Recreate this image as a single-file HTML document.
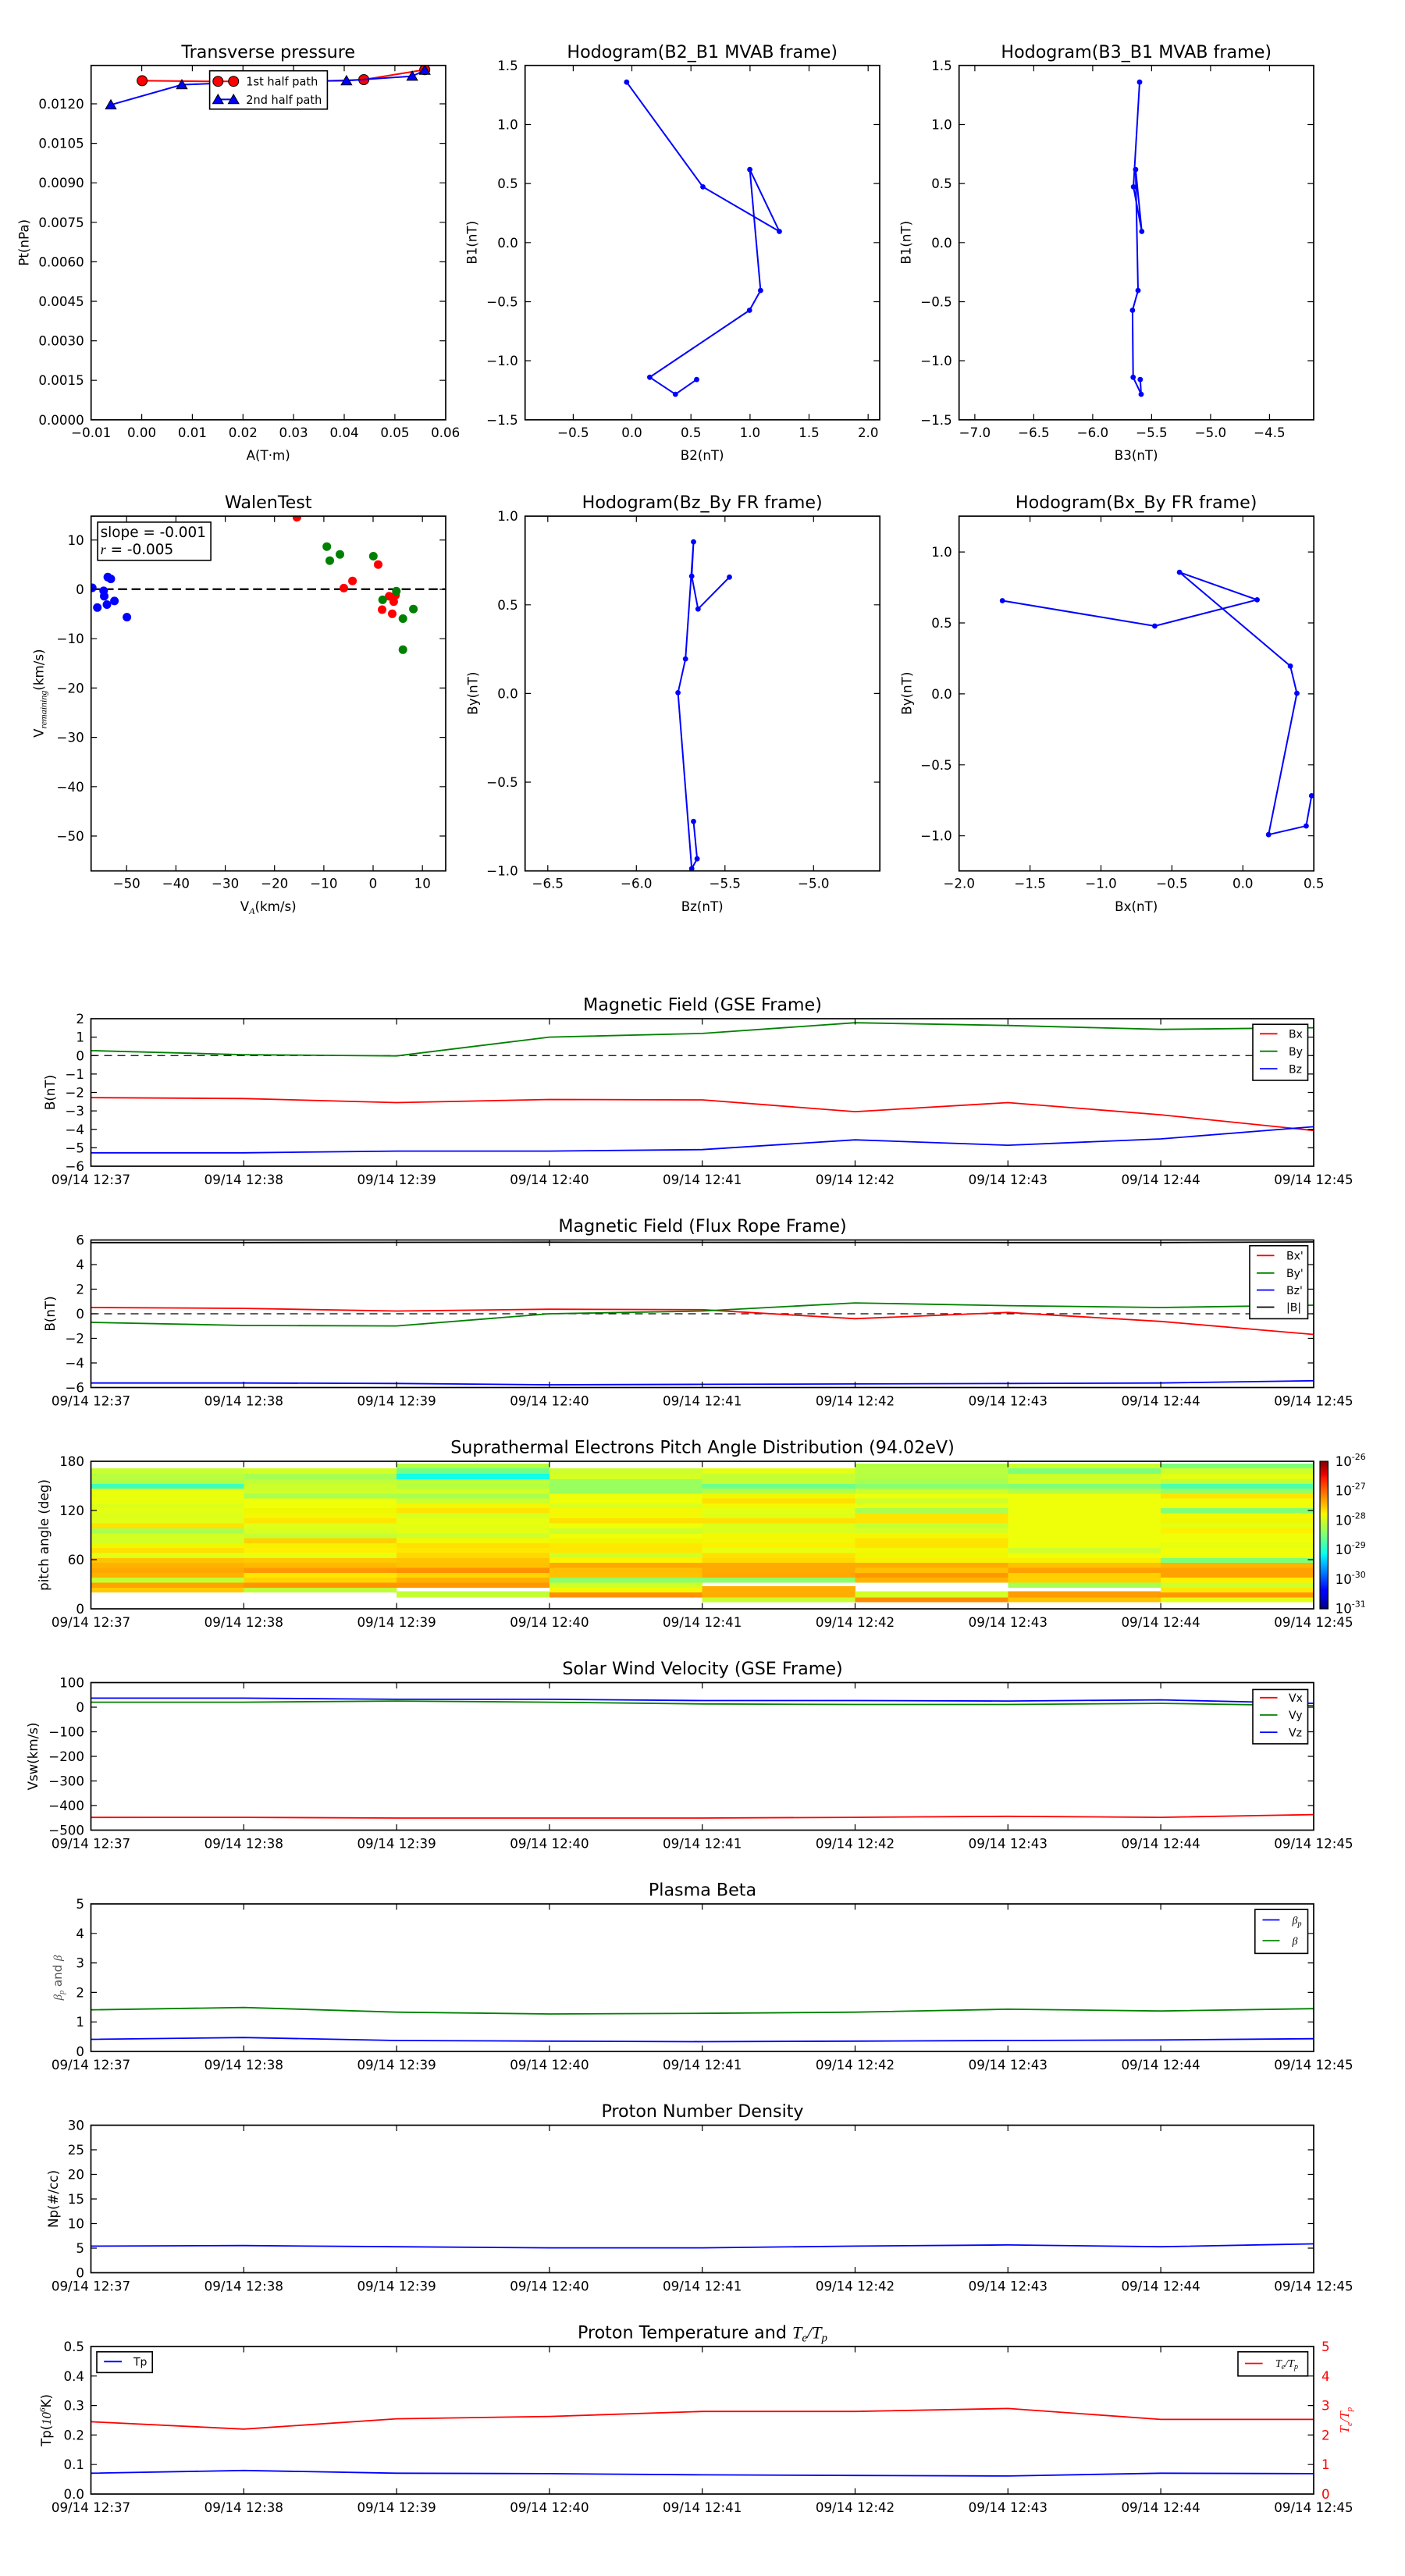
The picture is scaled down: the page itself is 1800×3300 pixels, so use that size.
<!DOCTYPE html>
<html><head><meta charset="utf-8"><style>
html,body{margin:0;padding:0;background:#fff;}
svg{display:block;}
text{font-family:"DejaVu Sans","Liberation Sans",sans-serif;font-size:16.67px;fill:#000;}
.m{text-anchor:middle;}
.e{text-anchor:end;}
.ti{font-size:22.2px;text-anchor:middle;}
.lg{font-size:14px;}
.mi{font-family:"Liberation Serif","DejaVu Serif",serif;font-style:italic;}
.fr{fill:none;stroke:#000;stroke-width:1.7;}
.tk{fill:none;stroke:#000;stroke-width:1.2;}
.ln{fill:none;stroke-width:1.8;stroke-linejoin:round;}
</style></head><body>
<svg xmlns="http://www.w3.org/2000/svg" width="1800" height="3300" viewBox="0 0 1800 3300">
<defs>
<clipPath id="c4"><rect x="0" y="0" width="454.5" height="454.5"/></clipPath>
<marker id="db" viewBox="-5 -5 10 10" markerWidth="10" markerHeight="10" markerUnits="userSpaceOnUse" overflow="visible"><circle r="3.4" fill="#0000ff"/></marker>
<marker id="rc" viewBox="-8 -8 16 16" markerWidth="16" markerHeight="16" markerUnits="userSpaceOnUse" overflow="visible"><circle r="6.5" fill="#ff0000" stroke="#000" stroke-width="1"/></marker>
<marker id="bt" viewBox="-8 -8 16 16" markerWidth="16" markerHeight="16" markerUnits="userSpaceOnUse" overflow="visible"><path d="M0,-6.5L-6.8,5.3L6.8,5.3Z" fill="#0000ff" stroke="#000" stroke-width="1"/></marker>
<linearGradient id="jet" x1="0" y1="1" x2="0" y2="0">
<stop offset="0" stop-color="#000080"/><stop offset="0.11" stop-color="#0000ff"/><stop offset="0.125" stop-color="#0000ff"/>
<stop offset="0.34" stop-color="#00dbff"/><stop offset="0.375" stop-color="#0affed"/><stop offset="0.5" stop-color="#7dff7a"/>
<stop offset="0.64" stop-color="#f4f802"/><stop offset="0.66" stop-color="#ffe600"/><stop offset="0.89" stop-color="#ff1300"/>
<stop offset="0.91" stop-color="#ed0000"/><stop offset="1" stop-color="#800000"/>
</linearGradient>
</defs>

<!-- ================= P1 Transverse pressure ================= -->
<g transform="translate(116.7,83.8)">
<text class="ti" x="227" y="-10">Transverse pressure</text>
<g clip-path="url(#c4)">
<polyline points="65.4,19.6 250,21.5 349.4,18.2 427.5,5.5" fill="none" stroke="#ff0000" stroke-width="2" marker-start="url(#rc)" marker-mid="url(#rc)" marker-end="url(#rc)"/>
<polyline points="25.3,50.5 116.3,24.7 230,20.5 327.2,19.6 411.4,13.8 427.5,6.2" fill="none" stroke="#0000ff" stroke-width="2" marker-start="url(#bt)" marker-mid="url(#bt)" marker-end="url(#bt)"/>
</g>
<rect x="151.9" y="6.9" width="150.8" height="49.1" fill="#fff" stroke="#000" stroke-width="1.6"/>
<polyline points="162.6,20.4 182.5,20.4" fill="none" stroke="#ff0000" stroke-width="2" marker-start="url(#rc)" marker-end="url(#rc)"/>
<polyline points="162.6,43.6 182.5,43.6" fill="none" stroke="#0000ff" stroke-width="2" marker-start="url(#bt)" marker-end="url(#bt)"/>
<text x="198.6" y="25.8" font-size="15" textLength="92" lengthAdjust="spacingAndGlyphs" style="font-size:15px">1st half path</text>
<text x="198.6" y="49" font-size="15" textLength="97" lengthAdjust="spacingAndGlyphs" style="font-size:15px">2nd half path</text>
<rect class="fr" x="0" y="0" width="454.3" height="454"/>
<path class="tk" d="M64.9,454v-7.5M64.9,0v7.5M129.7,454v-7.5M129.7,0v7.5M194.6,454v-7.5M194.6,0v7.5M259.4,454v-7.5M259.4,0v7.5M324.3,454v-7.5M324.3,0v7.5M389.2,454v-7.5M389.2,0v7.5M0,403.4h7.5M454,403.4h-7.5M0,352.8h7.5M454,352.8h-7.5M0,302.2h7.5M454,302.2h-7.5M0,251.6h7.5M454,251.6h-7.5M0,201h7.5M454,201h-7.5M0,150.4h7.5M454,150.4h-7.5M0,99.8h7.5M454,99.8h-7.5M0,49.2h7.5M454,49.2h-7.5"/>
<text class="m" x="0" y="476">−0.01</text><text class="m" x="64.9" y="476">0.00</text><text class="m" x="129.7" y="476">0.01</text><text class="m" x="194.6" y="476">0.02</text><text class="m" x="259.4" y="476">0.03</text><text class="m" x="324.3" y="476">0.04</text><text class="m" x="389.2" y="476">0.05</text><text class="m" x="454" y="476">0.06</text>
<text class="e" x="-9" y="460">0.0000</text><text class="e" x="-9" y="409.4">0.0015</text><text class="e" x="-9" y="358.8">0.0030</text><text class="e" x="-9" y="308.2">0.0045</text><text class="e" x="-9" y="257.6">0.0060</text><text class="e" x="-9" y="207">0.0075</text><text class="e" x="-9" y="156.4">0.0090</text><text class="e" x="-9" y="105.8">0.0105</text><text class="e" x="-9" y="55.2">0.0120</text>
<text class="m" x="227" y="505">A(T·m)</text>
<text class="m" transform="translate(-80,227) rotate(-90)">Pt(nPa)</text>
</g>

<!-- ================= P2 Hodogram B2_B1 ================= -->
<g transform="translate(672.7,83.8)">
<text class="ti" x="227" y="-10">Hodogram(B2_B1 MVAB frame)</text>
<g clip-path="url(#c4)">
<polyline points="130.1,21.4 227.8,155.6 325.8,212.7 287.9,133.4 301.7,288.3 287.5,313.7 159.7,399.5 192.6,421.3 219.8,402.4" fill="none" stroke="#0000ff" stroke-width="2" marker-start="url(#db)" marker-mid="url(#db)" marker-end="url(#db)"/>
</g>
<rect class="fr" x="0" y="0" width="454.3" height="454"/>
<path class="tk" d="M61.7,454v-7.5M61.7,0v7.5M136.8,454v-7.5M136.8,0v7.5M212.5,454v-7.5M212.5,0v7.5M288.2,454v-7.5M288.2,0v7.5M363.8,454v-7.5M363.8,0v7.5M439.5,454v-7.5M439.5,0v7.5M0,75.7h7.5M454,75.7h-7.5M0,151.3h7.5M454,151.3h-7.5M0,227h7.5M454,227h-7.5M0,302.7h7.5M454,302.7h-7.5M0,378.3h7.5M454,378.3h-7.5"/>
<text class="m" x="61.7" y="476">−0.5</text><text class="m" x="136.8" y="476">0.0</text><text class="m" x="212.5" y="476">0.5</text><text class="m" x="288.2" y="476">1.0</text><text class="m" x="363.8" y="476">1.5</text><text class="m" x="439.5" y="476">2.0</text>
<text class="e" x="-9" y="6">1.5</text><text class="e" x="-9" y="81.7">1.0</text><text class="e" x="-9" y="157.3">0.5</text><text class="e" x="-9" y="233">0.0</text><text class="e" x="-9" y="308.7">−0.5</text><text class="e" x="-9" y="384.3">−1.0</text><text class="e" x="-9" y="460">−1.5</text>
<text class="m" x="227" y="505">B2(nT)</text>
<text class="m" transform="translate(-62,227) rotate(-90)">B1(nT)</text>
</g>

<!-- ================= P3 Hodogram B3_B1 ================= -->
<g transform="translate(1228.7,83.8)">
<text class="ti" x="227" y="-10">Hodogram(B3_B1 MVAB frame)</text>
<g clip-path="url(#c4)">
<polyline points="231.3,21.4 223.4,155.6 234.1,212.7 226.2,133.4 229.3,288.3 222.2,313.7 223.0,399.5 233.3,421.3 232.1,402.4" fill="none" stroke="#0000ff" stroke-width="2" marker-start="url(#db)" marker-mid="url(#db)" marker-end="url(#db)"/>
</g>
<rect class="fr" x="0" y="0" width="454.3" height="454"/>
<path class="tk" d="M20.2,454v-7.5M20.2,0v7.5M95.7,454v-7.5M95.7,0v7.5M171.2,454v-7.5M171.2,0v7.5M246.7,454v-7.5M246.7,0v7.5M322.2,454v-7.5M322.2,0v7.5M397.7,454v-7.5M397.7,0v7.5M0,75.7h7.5M454,75.7h-7.5M0,151.3h7.5M454,151.3h-7.5M0,227h7.5M454,227h-7.5M0,302.7h7.5M454,302.7h-7.5M0,378.3h7.5M454,378.3h-7.5"/>
<text class="m" x="20.2" y="476">−7.0</text><text class="m" x="95.7" y="476">−6.5</text><text class="m" x="171.2" y="476">−6.0</text><text class="m" x="246.7" y="476">−5.5</text><text class="m" x="322.2" y="476">−5.0</text><text class="m" x="397.7" y="476">−4.5</text>
<text class="e" x="-9" y="6">1.5</text><text class="e" x="-9" y="81.7">1.0</text><text class="e" x="-9" y="157.3">0.5</text><text class="e" x="-9" y="233">0.0</text><text class="e" x="-9" y="308.7">−0.5</text><text class="e" x="-9" y="384.3">−1.0</text><text class="e" x="-9" y="460">−1.5</text>
<text class="m" x="227" y="505">B3(nT)</text>
<text class="m" transform="translate(-62,227) rotate(-90)">B1(nT)</text>
</g>

<!-- ================= P4 WalenTest ================= -->
<g transform="translate(116.7,661.2)">
<text class="ti" x="227" y="-10">WalenTest</text>
<g clip-path="url(#c4)">
<path d="M0,93.6H454.5" stroke="#000" stroke-width="2.3" stroke-dasharray="11.5,5.8" fill="none"/>
<g fill="#0000ff">
<circle cx="1.5" cy="91.8" r="5.5"/><circle cx="8.0" cy="117.1" r="5.5"/><circle cx="16.1" cy="95.7" r="5.5"/><circle cx="16.8" cy="102.6" r="5.5"/><circle cx="20.3" cy="113.3" r="5.5"/><circle cx="21.4" cy="78.1" r="5.5"/><circle cx="25.3" cy="80.4" r="5.5"/><circle cx="29.9" cy="108.7" r="5.5"/><circle cx="45.9" cy="129.4" r="5.5"/>
</g>
<g fill="#ff0000">
<circle cx="263.7" cy="1.5" r="5.5"/><circle cx="323.8" cy="92.2" r="5.5"/><circle cx="334.9" cy="83.0" r="5.5"/><circle cx="367.8" cy="62.0" r="5.5"/><circle cx="372.8" cy="119.8" r="5.5"/><circle cx="381.9" cy="102.6" r="5.5"/><circle cx="385.8" cy="125.1" r="5.5"/><circle cx="387.7" cy="109.5" r="5.5"/><circle cx="390.0" cy="101.4" r="5.5"/>
</g>
<g fill="#008000">
<circle cx="302.0" cy="39.0" r="5.5"/><circle cx="305.8" cy="57.0" r="5.5"/><circle cx="318.8" cy="49.0" r="5.5"/><circle cx="361.6" cy="51.3" r="5.5"/><circle cx="373.5" cy="107.2" r="5.5"/><circle cx="391.1" cy="96.1" r="5.5"/><circle cx="412.9" cy="119.0" r="5.5"/><circle cx="399.5" cy="131.3" r="5.5"/><circle cx="399.5" cy="171.1" r="5.5"/>
</g>
</g>
<rect x="8.4" y="7.7" width="145" height="48.9" fill="#fff" stroke="#000" stroke-width="1.6"/>
<text x="11.9" y="26.8" style="font-size:18.4px">slope = -0.001</text>
<text x="11.9" y="48.6" style="font-size:18.4px"><tspan class="mi" style="font-size:18.4px">r</tspan> = -0.005</text>
<rect class="fr" x="0" y="0" width="454.3" height="454.5"/>
<path class="tk" d="M45.5,454.5v-7.5M45.5,0v7.5M108.7,454.5v-7.5M108.7,0v7.5M171.9,454.5v-7.5M171.9,0v7.5M235,454.5v-7.5M235,0v7.5M298.2,454.5v-7.5M298.2,0v7.5M361.3,454.5v-7.5M361.3,0v7.5M424.5,454.5v-7.5M424.5,0v7.5M0,30.6h7.5M454,30.6h-7.5M0,93.8h7.5M454,93.8h-7.5M0,157h7.5M454,157h-7.5M0,220.2h7.5M454,220.2h-7.5M0,283.4h7.5M454,283.4h-7.5M0,346.6h7.5M454,346.6h-7.5M0,409.8h7.5M454,409.8h-7.5"/>
<text class="m" x="45.5" y="476.5">−50</text><text class="m" x="108.7" y="476.5">−40</text><text class="m" x="171.9" y="476.5">−30</text><text class="m" x="235" y="476.5">−20</text><text class="m" x="298.2" y="476.5">−10</text><text class="m" x="361.3" y="476.5">0</text><text class="m" x="424.5" y="476.5">10</text>
<text class="e" x="-9" y="36.6">10</text><text class="e" x="-9" y="99.8">0</text><text class="e" x="-9" y="163">−10</text><text class="e" x="-9" y="226.2">−20</text><text class="e" x="-9" y="289.4">−30</text><text class="e" x="-9" y="352.6">−40</text><text class="e" x="-9" y="415.8">−50</text>
<text class="m" x="227" y="506">V<tspan class="mi" style="font-size:12px" dy="4">A</tspan><tspan dy="-4">(km/s)</tspan></text>
<text class="m" transform="translate(-61,227) rotate(-90)">V<tspan class="mi" style="font-size:12px" dy="4">remaining</tspan><tspan dy="-4">(km/s)</tspan></text>
</g>

<!-- ================= P5 Hodogram Bz_By ================= -->
<g transform="translate(672.7,661.2)">
<text class="ti" x="227" y="-10">Hodogram(Bz_By FR frame)</text>
<g clip-path="url(#c4)">
<polyline points="261.8,78.1 221.6,119.0 213.5,76.9 215.8,32.9 205.5,182.9 195.9,226.2 213.5,451.6 220.4,439.0 215.8,391.1" fill="none" stroke="#0000ff" stroke-width="2" marker-start="url(#db)" marker-mid="url(#db)" marker-end="url(#db)"/>
</g>
<rect class="fr" x="0" y="0" width="454.5" height="454.5"/>
<path class="tk" d="M29.1,454.5v-7.5M29.1,0v7.5M142.6,454.5v-7.5M142.6,0v7.5M256.1,454.5v-7.5M256.1,0v7.5M369.6,454.5v-7.5M369.6,0v7.5M0,113.6h7.5M454.5,113.6h-7.5M0,227.2h7.5M454.5,227.2h-7.5M0,340.8h7.5M454.5,340.8h-7.5"/>
<text class="m" x="29.1" y="476.5">−6.5</text><text class="m" x="142.6" y="476.5">−6.0</text><text class="m" x="256.1" y="476.5">−5.5</text><text class="m" x="369.6" y="476.5">−5.0</text>
<text class="e" x="-9" y="6">1.0</text><text class="e" x="-9" y="119.6">0.5</text><text class="e" x="-9" y="233.2">0.0</text><text class="e" x="-9" y="346.8">−0.5</text><text class="e" x="-9" y="460.4">−1.0</text>
<text class="m" x="227" y="506">Bz(nT)</text>
<text class="m" transform="translate(-61,227) rotate(-90)">By(nT)</text>
</g>

<!-- ================= P6 Hodogram Bx_By ================= -->
<g transform="translate(1228.7,661.2)">
<text class="ti" x="227" y="-10">Hodogram(Bx_By FR frame)</text>
<g clip-path="url(#c4)">
<polyline points="55.5,108.3 250.7,140.8 381.9,107.2 282.4,71.9 424.4,192.1 432.8,226.9 396.5,408.0 444.7,396.9 451.6,358.2" fill="none" stroke="#0000ff" stroke-width="2" marker-start="url(#db)" marker-mid="url(#db)" marker-end="url(#db)"/>
</g>
<rect class="fr" x="0" y="0" width="454.5" height="454.5"/>
<path class="tk" d="M90.9,454.5v-7.5M90.9,0v7.5M181.8,454.5v-7.5M181.8,0v7.5M272.7,454.5v-7.5M272.7,0v7.5M363.6,454.5v-7.5M363.6,0v7.5M0,45.9h7.5M454.5,45.9h-7.5M0,136.8h7.5M454.5,136.8h-7.5M0,227.7h7.5M454.5,227.7h-7.5M0,318.6h7.5M454.5,318.6h-7.5M0,409.5h7.5M454.5,409.5h-7.5"/>
<text class="m" x="0" y="476.5">−2.0</text><text class="m" x="90.9" y="476.5">−1.5</text><text class="m" x="181.8" y="476.5">−1.0</text><text class="m" x="272.7" y="476.5">−0.5</text><text class="m" x="363.6" y="476.5">0.0</text><text class="m" x="454.5" y="476.5">0.5</text>
<text class="e" x="-9" y="51.9">1.0</text><text class="e" x="-9" y="142.8">0.5</text><text class="e" x="-9" y="233.7">0.0</text><text class="e" x="-9" y="324.6">−0.5</text><text class="e" x="-9" y="415.5">−1.0</text>
<text class="m" x="227" y="506">Bx(nT)</text>
<text class="m" transform="translate(-61,227) rotate(-90)">By(nT)</text>
</g>

<!-- ================= TS1 Magnetic Field GSE ================= -->
<path d="M116.5,1352.25H1683" stroke="#000" stroke-width="1.2" stroke-dasharray="10,7" fill="none"/>
<polyline class="ln" stroke="#ff0000" points="116.5,1406.1 312.3,1407.3 508.1,1412.5 703.9,1408.5 899.7,1409.0 1095.5,1424.1 1291.3,1412.5 1487.1,1428.1 1682.9,1448.2"/>
<polyline class="ln" stroke="#008000" points="116.5,1345.9 312.3,1351.1 508.1,1352.7 703.9,1328.6 899.7,1323.9 1095.5,1310.2 1291.3,1313.7 1487.1,1318.7 1682.9,1316.6"/>
<polyline class="ln" stroke="#0000ff" points="116.5,1476.8 312.3,1476.8 508.1,1474.6 703.9,1474.6 899.7,1472.7 1095.5,1460.2 1291.3,1467.1 1487.1,1459.0 1682.9,1443.4"/>
<g transform="translate(0,1305)">
<text class="ti" x="900" y="-10.5">Magnetic Field (GSE Frame)</text>
<rect x="1605" y="7.2" width="70.5" height="71.8" fill="#fff" stroke="#000" stroke-width="1.6"/>
<path d="M1614,19.3h22.5" stroke="#ff0000" stroke-width="1.8"/><path d="M1614,41.7h22.5" stroke="#008000" stroke-width="1.8"/><path d="M1614,64.1h22.5" stroke="#0000ff" stroke-width="1.8"/>
<text class="lg" x="1651" y="24.5">Bx</text><text class="lg" x="1651" y="46.9">By</text><text class="lg" x="1651" y="69.3">Bz</text>
<rect class="fr" x="116.5" y="0" width="1566.5" height="189"/>
<path class="tk" d="M312.3,189v-7.5M312.3,0v7.5M508.1,189v-7.5M508.1,0v7.5M703.9,189v-7.5M703.9,0v7.5M899.7,189v-7.5M899.7,0v7.5M1095.5,189v-7.5M1095.5,0v7.5M1291.3,189v-7.5M1291.3,0v7.5M1487.1,189v-7.5M1487.1,0v7.5M116.5,23.6h7.5M1683,23.6h-7.5M116.5,47.25h7.5M1683,47.25h-7.5M116.5,70.9h7.5M1683,70.9h-7.5M116.5,94.5h7.5M1683,94.5h-7.5M116.5,118.1h7.5M1683,118.1h-7.5M116.5,141.75h7.5M1683,141.75h-7.5M116.5,165.4h7.5M1683,165.4h-7.5"/>
<text class="e" x="108" y="6">2</text><text class="e" x="108" y="29.6">1</text><text class="e" x="108" y="53.25">0</text><text class="e" x="108" y="76.9">−1</text><text class="e" x="108" y="100.5">−2</text><text class="e" x="108" y="124.1">−3</text><text class="e" x="108" y="147.75">−4</text><text class="e" x="108" y="171.4">−5</text><text class="e" x="108" y="195">−6</text>
<text class="m" x="116.5" y="212">09/14 12:37</text><text class="m" x="312.3" y="212">09/14 12:38</text><text class="m" x="508.1" y="212">09/14 12:39</text><text class="m" x="703.9" y="212">09/14 12:40</text><text class="m" x="899.7" y="212">09/14 12:41</text><text class="m" x="1095.5" y="212">09/14 12:42</text><text class="m" x="1291.3" y="212">09/14 12:43</text><text class="m" x="1487.1" y="212">09/14 12:44</text><text class="m" x="1682.9" y="212">09/14 12:45</text>
<text class="m" transform="translate(70,94.5) rotate(-90)">B(nT)</text>
</g>

<!-- ================= TS2 Magnetic Field Flux Rope ================= -->
<path d="M116.5,1683H1683" stroke="#000" stroke-width="1.2" stroke-dasharray="10,7" fill="none"/>
<polyline class="ln" stroke="#ff0000" points="116.5,1675.0 312.3,1676.1 508.1,1679.5 703.9,1677.2 899.7,1677.8 1095.5,1689.3 1291.3,1681.3 1487.1,1692.8 1682.9,1709.5"/>
<polyline class="ln" stroke="#008000" points="116.5,1694.0 312.3,1698.0 508.1,1698.6 703.9,1683.0 899.7,1679.5 1095.5,1669.1 1291.3,1672.6 1487.1,1675.0 1682.9,1672.0"/>
<polyline class="ln" stroke="#0000ff" points="116.5,1771.7 312.3,1771.7 508.1,1772.3 703.9,1774.0 899.7,1773.4 1095.5,1772.9 1291.3,1772.3 1487.1,1771.7 1682.9,1768.8"/>
<polyline class="ln" stroke="#000" points="116.5,1591.8 312.3,1591.8 508.1,1591.5 703.9,1591.3 899.7,1591.5 1095.5,1591.6 1291.3,1591.8 1487.1,1591.8 1682.9,1591.0"/>
<g transform="translate(0,1588.5)">
<text class="ti" x="900" y="-10.5">Magnetic Field (Flux Rope Frame)</text>
<rect x="1601" y="7.3" width="74.5" height="93.6" fill="#fff" stroke="#000" stroke-width="1.6"/>
<path d="M1610,19.9h22.5" stroke="#ff0000" stroke-width="1.8"/><path d="M1610,42.3h22.5" stroke="#008000" stroke-width="1.8"/><path d="M1610,64.1h22.5" stroke="#0000ff" stroke-width="1.8"/><path d="M1610,86h22.5" stroke="#000" stroke-width="1.8"/>
<text class="lg" x="1648" y="25.1">Bx'</text><text class="lg" x="1648" y="47.5">By'</text><text class="lg" x="1648" y="69.3">Bz'</text><text class="lg" x="1648" y="91.2">|B|</text>
<rect class="fr" x="116.5" y="0" width="1566.5" height="189"/>
<path class="tk" d="M312.3,189v-7.5M312.3,0v7.5M508.1,189v-7.5M508.1,0v7.5M703.9,189v-7.5M703.9,0v7.5M899.7,189v-7.5M899.7,0v7.5M1095.5,189v-7.5M1095.5,0v7.5M1291.3,189v-7.5M1291.3,0v7.5M1487.1,189v-7.5M1487.1,0v7.5M116.5,31.5h7.5M1683,31.5h-7.5M116.5,63h7.5M1683,63h-7.5M116.5,94.5h7.5M1683,94.5h-7.5M116.5,126h7.5M1683,126h-7.5M116.5,157.5h7.5M1683,157.5h-7.5"/>
<text class="e" x="108" y="6">6</text><text class="e" x="108" y="37.5">4</text><text class="e" x="108" y="69">2</text><text class="e" x="108" y="100.5">0</text><text class="e" x="108" y="132">−2</text><text class="e" x="108" y="163.5">−4</text><text class="e" x="108" y="195">−6</text>
<text class="m" x="116.5" y="212">09/14 12:37</text><text class="m" x="312.3" y="212">09/14 12:38</text><text class="m" x="508.1" y="212">09/14 12:39</text><text class="m" x="703.9" y="212">09/14 12:40</text><text class="m" x="899.7" y="212">09/14 12:41</text><text class="m" x="1095.5" y="212">09/14 12:42</text><text class="m" x="1291.3" y="212">09/14 12:43</text><text class="m" x="1487.1" y="212">09/14 12:44</text><text class="m" x="1682.9" y="212">09/14 12:45</text>
<text class="m" transform="translate(70,94.5) rotate(-90)">B(nT)</text>
</g>

<!-- ================= TS3 PAD ================= -->
<g transform="translate(116,1866) scale(0.5,0.3345)" shape-rendering="crispEdges">
<g transform="translate(1,0)">
<rect y="45" width="392.6" height="22" fill="#c8ff30"/><rect y="66" width="392.6" height="22" fill="#b8ff3f"/><rect y="87" width="392.6" height="19" fill="#b0ff47"/><rect y="105" width="392.6" height="19" fill="#3dffba"/><rect y="123" width="392.6" height="58" fill="#eaff0c"/><rect y="180" width="392.6" height="19" fill="#dcff1a"/><rect y="198" width="392.6" height="20" fill="#e4ff12"/><rect y="217" width="392.6" height="20" fill="#dcff1a"/><rect y="236" width="392.6" height="20" fill="#e0ff17"/><rect y="255" width="392.6" height="21" fill="#ffe200"/><rect y="275" width="392.6" height="20" fill="#a6ff51"/><rect y="294" width="392.6" height="39" fill="#d4ff23"/><rect y="332" width="392.6" height="19" fill="#f0f800"/><rect y="350" width="392.6" height="20" fill="#ffe000"/><rect y="369" width="392.6" height="20" fill="#e2ff15"/><rect y="388" width="392.6" height="20" fill="#ffc400"/><rect y="407" width="392.6" height="20" fill="#ffb100"/><rect y="426" width="392.6" height="20" fill="#ffa900"/><rect y="445" width="392.6" height="20" fill="#ffb100"/><rect y="464" width="392.6" height="20" fill="#c4ff33"/><rect y="483" width="392.6" height="20" fill="#ffa300"/><rect y="502" width="392.6" height="18" fill="#ffcb00"/>
</g>
<g transform="translate(392.6,0)">
<rect y="45" width="392.6" height="22" fill="#d4ff23"/><rect y="66" width="392.6" height="22" fill="#a6ff51"/><rect y="87" width="392.6" height="19" fill="#c0ff37"/><rect y="105" width="392.6" height="19" fill="#ccff2b"/><rect y="123" width="392.6" height="20" fill="#d0ff27"/><rect y="142" width="392.6" height="19" fill="#a6ff51"/><rect y="160" width="392.6" height="39" fill="#eeff09"/><rect y="198" width="392.6" height="20" fill="#f0f800"/><rect y="217" width="392.6" height="20" fill="#f4f802"/><rect y="236" width="392.6" height="20" fill="#ffe600"/><rect y="255" width="392.6" height="21" fill="#e0ff17"/><rect y="275" width="392.6" height="20" fill="#d8ff1f"/><rect y="294" width="392.6" height="20" fill="#c4ff33"/><rect y="313" width="392.6" height="20" fill="#ffd200"/><rect y="332" width="392.6" height="19" fill="#f8f000"/><rect y="350" width="392.6" height="20" fill="#fff000"/><rect y="369" width="392.6" height="20" fill="#e8ff0f"/><rect y="388" width="392.6" height="20" fill="#ffc800"/><rect y="407" width="392.6" height="20" fill="#ffb800"/><rect y="426" width="392.6" height="20" fill="#ff9800"/><rect y="445" width="392.6" height="20" fill="#ffe600"/><rect y="464" width="392.6" height="20" fill="#ffd400"/><rect y="483" width="392.6" height="20" fill="#ff9400"/><rect y="502" width="392.6" height="18" fill="#c0ff37"/>
</g>
<g transform="translate(784.2,0)">
<rect y="27" width="392.6" height="19" fill="#b8ff3f"/><rect y="45" width="392.6" height="22" fill="#70ff86"/><rect y="66" width="392.6" height="22" fill="#10ffe6"/><rect y="87" width="392.6" height="19" fill="#c0ff37"/><rect y="105" width="392.6" height="19" fill="#b4ff43"/><rect y="123" width="392.6" height="20" fill="#d4ff23"/><rect y="142" width="392.6" height="19" fill="#a6ff51"/><rect y="160" width="392.6" height="21" fill="#ccff2b"/><rect y="180" width="392.6" height="19" fill="#f4f802"/><rect y="198" width="392.6" height="20" fill="#ffe400"/><rect y="217" width="392.6" height="20" fill="#d8ff1f"/><rect y="236" width="392.6" height="20" fill="#e8ff0f"/><rect y="255" width="392.6" height="40" fill="#e4ff12"/><rect y="294" width="392.6" height="20" fill="#ccff2b"/><rect y="313" width="392.6" height="20" fill="#f4f802"/><rect y="332" width="392.6" height="19" fill="#ffe000"/><rect y="350" width="392.6" height="20" fill="#ffe800"/><rect y="369" width="392.6" height="20" fill="#ffd800"/><rect y="388" width="392.6" height="20" fill="#ffc400"/><rect y="407" width="392.6" height="20" fill="#ffc000"/><rect y="426" width="392.6" height="20" fill="#ff9000"/><rect y="445" width="392.6" height="20" fill="#ffd400"/><rect y="464" width="392.6" height="20" fill="#ffb000"/><rect y="483" width="392.6" height="19" fill="#ff9800"/><rect y="516" width="392.6" height="24" fill="#c4ff33"/>
</g>
<g transform="translate(1175.8,0)">
<rect y="45" width="391.8" height="22" fill="#ccff2b"/><rect y="66" width="391.8" height="22" fill="#d4ff23"/><rect y="87" width="391.8" height="56" fill="#98ff5f"/><rect y="142" width="391.8" height="39" fill="#f0ff07"/><rect y="180" width="391.8" height="19" fill="#d8ff1f"/><rect y="198" width="391.8" height="39" fill="#f4f802"/><rect y="236" width="391.8" height="20" fill="#ffe000"/><rect y="255" width="391.8" height="21" fill="#f0ff07"/><rect y="275" width="391.8" height="20" fill="#ccff2b"/><rect y="294" width="391.8" height="20" fill="#f0ff07"/><rect y="313" width="391.8" height="20" fill="#f0f800"/><rect y="332" width="391.8" height="38" fill="#ffe800"/><rect y="369" width="391.8" height="20" fill="#d0ff27"/><rect y="388" width="391.8" height="20" fill="#fff200"/><rect y="407" width="391.8" height="20" fill="#ffa800"/><rect y="426" width="391.8" height="39" fill="#ffc000"/><rect y="464" width="391.8" height="20" fill="#8cff6b"/><rect y="483" width="391.8" height="20" fill="#d0ff27"/><rect y="502" width="391.8" height="19" fill="#f4f802"/><rect y="520" width="391.8" height="20" fill="#ff9000"/>
</g>
</g>
<g transform="translate(900,1866) scale(0.5,0.3345)" shape-rendering="crispEdges">
<g transform="translate(-0.6,0)">
<rect y="45" width="392.2" height="22" fill="#e4ff12"/><rect y="66" width="392.2" height="40" fill="#c4ff33"/><rect y="105" width="392.2" height="19" fill="#6cff8a"/><rect y="123" width="392.2" height="20" fill="#b4ff43"/><rect y="142" width="392.2" height="19" fill="#f0f800"/><rect y="160" width="392.2" height="21" fill="#ffe000"/><rect y="180" width="392.2" height="19" fill="#f4f802"/><rect y="198" width="392.2" height="20" fill="#e4ff12"/><rect y="217" width="392.2" height="20" fill="#e0ff17"/><rect y="236" width="392.2" height="20" fill="#ffe000"/><rect y="255" width="392.2" height="40" fill="#dcff1a"/><rect y="294" width="392.2" height="39" fill="#f4f802"/><rect y="332" width="392.2" height="19" fill="#fff000"/><rect y="350" width="392.2" height="20" fill="#e8ff0f"/><rect y="369" width="392.2" height="20" fill="#ffe000"/><rect y="388" width="392.2" height="20" fill="#ffd800"/><rect y="407" width="392.2" height="39" fill="#ffaa00"/><rect y="445" width="392.2" height="20" fill="#ffa600"/><rect y="464" width="392.2" height="19" fill="#8cff6b"/><rect y="497" width="392.2" height="44" fill="#ffae00"/><rect y="540" width="392.2" height="18" fill="#c8ff30"/>
</g>
<g transform="translate(391,0)">
<rect y="27" width="392.6" height="19" fill="#b4ff43"/><rect y="45" width="392.6" height="22" fill="#b8ff3f"/><rect y="66" width="392.6" height="22" fill="#b4ff43"/><rect y="87" width="392.6" height="19" fill="#a8ff4f"/><rect y="105" width="392.6" height="19" fill="#88ff6f"/><rect y="123" width="392.6" height="20" fill="#ccff2b"/><rect y="142" width="392.6" height="19" fill="#eeff09"/><rect y="160" width="392.6" height="21" fill="#ccff2b"/><rect y="180" width="392.6" height="19" fill="#e8ff0f"/><rect y="198" width="392.6" height="20" fill="#a8ff4f"/><rect y="217" width="392.6" height="39" fill="#ffe400"/><rect y="255" width="392.6" height="21" fill="#c4ff33"/><rect y="275" width="392.6" height="20" fill="#d8ff1f"/><rect y="294" width="392.6" height="20" fill="#f4f802"/><rect y="313" width="392.6" height="38" fill="#ffe400"/><rect y="350" width="392.6" height="20" fill="#f4f802"/><rect y="369" width="392.6" height="20" fill="#f0f800"/><rect y="388" width="392.6" height="20" fill="#f8f000"/><rect y="407" width="392.6" height="20" fill="#ffaa00"/><rect y="426" width="392.6" height="20" fill="#ffc000"/><rect y="445" width="392.6" height="20" fill="#ff9800"/><rect y="464" width="392.6" height="19" fill="#ffb400"/><rect y="516" width="392.6" height="25" fill="#d4ff23"/><rect y="540" width="392.6" height="18" fill="#ff8c00"/>
</g>
<g transform="translate(782.6,0)">
<rect y="27" width="392.6" height="19" fill="#ccff2b"/><rect y="45" width="392.6" height="22" fill="#7cff7a"/><rect y="66" width="392.6" height="22" fill="#ccff2b"/><rect y="87" width="392.6" height="19" fill="#d4ff23"/><rect y="105" width="392.6" height="19" fill="#80ff76"/><rect y="123" width="392.6" height="20" fill="#b4ff43"/><rect y="142" width="392.6" height="209" fill="#eeff09"/><rect y="350" width="392.6" height="20" fill="#ccff2b"/><rect y="369" width="392.6" height="20" fill="#f0ff07"/><rect y="388" width="392.6" height="20" fill="#f8f000"/><rect y="407" width="392.6" height="20" fill="#ffc000"/><rect y="426" width="392.6" height="20" fill="#ffa000"/><rect y="445" width="392.6" height="39" fill="#ffd000"/><rect y="483" width="392.6" height="19" fill="#a6ff51"/><rect y="516" width="392.6" height="25" fill="#ff9c00"/><rect y="540" width="392.6" height="18" fill="#ffc400"/>
</g>
<g transform="translate(1174.2,0)">
<rect y="27" width="392" height="19" fill="#7cff7a"/><rect y="45" width="392" height="22" fill="#ccff2b"/><rect y="66" width="392" height="22" fill="#e4ff12"/><rect y="87" width="392" height="19" fill="#c0ff37"/><rect y="105" width="392" height="19" fill="#4cffaa"/><rect y="123" width="392" height="20" fill="#98ff5f"/><rect y="142" width="392" height="19" fill="#ffe400"/><rect y="160" width="392" height="39" fill="#f0ff07"/><rect y="198" width="392" height="20" fill="#80ff76"/><rect y="217" width="392" height="20" fill="#f4f802"/><rect y="236" width="392" height="20" fill="#f0f800"/><rect y="255" width="392" height="21" fill="#e4ff12"/><rect y="275" width="392" height="20" fill="#fff000"/><rect y="294" width="392" height="39" fill="#f0ff07"/><rect y="332" width="392" height="19" fill="#e4ff12"/><rect y="350" width="392" height="39" fill="#f0ff07"/><rect y="388" width="392" height="20" fill="#7cff7a"/><rect y="407" width="392" height="20" fill="#ffb400"/><rect y="426" width="392" height="39" fill="#ffa200"/><rect y="464" width="392" height="20" fill="#fff000"/><rect y="483" width="392" height="20" fill="#ccff2b"/><rect y="502" width="392" height="19" fill="#ffe800"/><rect y="520" width="392" height="21" fill="#ff9800"/><rect y="540" width="392" height="18" fill="#e4ff12"/>
</g>
</g>
<g transform="translate(0,1872)">
<text class="ti" x="900" y="-10.5">Suprathermal Electrons Pitch Angle Distribution (94.02eV)</text>
<rect class="fr" x="116.5" y="0" width="1566.5" height="189"/>
<path class="tk" d="M312.3,189v-7.5M312.3,0v7.5M508.1,189v-7.5M508.1,0v7.5M703.9,189v-7.5M703.9,0v7.5M899.7,189v-7.5M899.7,0v7.5M1095.5,189v-7.5M1095.5,0v7.5M1291.3,189v-7.5M1291.3,0v7.5M1487.1,189v-7.5M1487.1,0v7.5M116.5,63h7.5M1683,63h-7.5M116.5,126h7.5M1683,126h-7.5"/>
<text class="e" x="108" y="6">180</text><text class="e" x="108" y="69">120</text><text class="e" x="108" y="132">60</text><text class="e" x="108" y="195">0</text>
<text class="m" x="116.5" y="212">09/14 12:37</text><text class="m" x="312.3" y="212">09/14 12:38</text><text class="m" x="508.1" y="212">09/14 12:39</text><text class="m" x="703.9" y="212">09/14 12:40</text><text class="m" x="899.7" y="212">09/14 12:41</text><text class="m" x="1095.5" y="212">09/14 12:42</text><text class="m" x="1291.3" y="212">09/14 12:43</text><text class="m" x="1487.1" y="212">09/14 12:44</text><text class="m" x="1682.9" y="212">09/14 12:45</text>
<text class="m" transform="translate(62,94.5) rotate(-90)">pitch angle (deg)</text>
<rect x="1691" y="0" width="10.4" height="189" fill="url(#jet)" stroke="#000" stroke-width="1.2"/>
<text x="1710.6" y="6">10<tspan style="font-size:11px" dy="-8">-26</tspan></text>
<text x="1710.6" y="43.7">10<tspan style="font-size:11px" dy="-8">-27</tspan></text>
<text x="1710.6" y="81.4">10<tspan style="font-size:11px" dy="-8">-28</tspan></text>
<text x="1710.6" y="119.1">10<tspan style="font-size:11px" dy="-8">-29</tspan></text>
<text x="1710.6" y="156.8">10<tspan style="font-size:11px" dy="-8">-30</tspan></text>
<text x="1710.6" y="194.5">10<tspan style="font-size:11px" dy="-8">-31</tspan></text>
</g>

<!-- ================= TS4 Solar Wind Velocity ================= -->
<polyline class="ln" stroke="#ff0000" points="116.5,2328.2 312.3,2328.1 508.1,2329.0 703.9,2329.0 899.7,2329.0 1095.5,2328.1 1291.3,2326.8 1487.1,2328.1 1682.9,2324.6"/>
<polyline class="ln" stroke="#008000" points="116.5,2180.6 312.3,2180.6 508.1,2179.1 703.9,2180.6 899.7,2182.8 1095.5,2183.5 1291.3,2183.5 1487.1,2182.1 1682.9,2185.0"/>
<polyline class="ln" stroke="#0000ff" points="116.5,2175.4 312.3,2175.4 508.1,2176.9 703.9,2176.9 899.7,2178.5 1095.5,2178.5 1291.3,2179.1 1487.1,2177.6 1682.9,2182.1"/>
<g transform="translate(0,2155.5)">
<text class="ti" x="900" y="-10.5">Solar Wind Velocity (GSE Frame)</text>
<rect x="1605" y="8.9" width="70.5" height="69.5" fill="#fff" stroke="#000" stroke-width="1.6"/>
<path d="M1614,19.3h22.5" stroke="#ff0000" stroke-width="1.8"/><path d="M1614,41.5h22.5" stroke="#008000" stroke-width="1.8"/><path d="M1614,63.6h22.5" stroke="#0000ff" stroke-width="1.8"/>
<text class="lg" x="1651" y="24.5">Vx</text><text class="lg" x="1651" y="46.7">Vy</text><text class="lg" x="1651" y="68.8">Vz</text>
<rect class="fr" x="116.5" y="0" width="1566.5" height="189"/>
<path class="tk" d="M312.3,189v-7.5M312.3,0v7.5M508.1,189v-7.5M508.1,0v7.5M703.9,189v-7.5M703.9,0v7.5M899.7,189v-7.5M899.7,0v7.5M1095.5,189v-7.5M1095.5,0v7.5M1291.3,189v-7.5M1291.3,0v7.5M1487.1,189v-7.5M1487.1,0v7.5M116.5,31.5h7.5M1683,31.5h-7.5M116.5,63h7.5M1683,63h-7.5M116.5,94.5h7.5M1683,94.5h-7.5M116.5,126h7.5M1683,126h-7.5M116.5,157.5h7.5M1683,157.5h-7.5"/>
<text class="e" x="108" y="6">100</text><text class="e" x="108" y="37.5">0</text><text class="e" x="108" y="69">−100</text><text class="e" x="108" y="100.5">−200</text><text class="e" x="108" y="132">−300</text><text class="e" x="108" y="163.5">−400</text><text class="e" x="108" y="195">−500</text>
<text class="m" x="116.5" y="212">09/14 12:37</text><text class="m" x="312.3" y="212">09/14 12:38</text><text class="m" x="508.1" y="212">09/14 12:39</text><text class="m" x="703.9" y="212">09/14 12:40</text><text class="m" x="899.7" y="212">09/14 12:41</text><text class="m" x="1095.5" y="212">09/14 12:42</text><text class="m" x="1291.3" y="212">09/14 12:43</text><text class="m" x="1487.1" y="212">09/14 12:44</text><text class="m" x="1682.9" y="212">09/14 12:45</text>
<text class="m" transform="translate(48,94.5) rotate(-90)">Vsw(km/s)</text>
</g>

<!-- ================= TS5 Plasma Beta ================= -->
<polyline class="ln" stroke="#008000" points="116.5,2574.7 312.3,2571.7 508.1,2577.7 703.9,2580.0 899.7,2579.2 1095.5,2577.7 1291.3,2573.9 1487.1,2576.2 1682.9,2573.2"/>
<polyline class="ln" stroke="#0000ff" points="116.5,2612.5 312.3,2610.2 508.1,2614.0 703.9,2614.8 899.7,2615.5 1095.5,2614.8 1291.3,2614.0 1487.1,2613.3 1682.9,2611.7"/>
<g transform="translate(0,2439)">
<text class="ti" x="900" y="-10.5">Plasma Beta</text>
<rect x="1607.8" y="7.2" width="67.7" height="56.2" fill="#fff" stroke="#000" stroke-width="1.6"/>
<path d="M1617.5,20.5h21.9" stroke="#0000ff" stroke-width="1.8"/><path d="M1617.5,47.1h21.9" stroke="#008000" stroke-width="1.8"/>
<text class="lg mi" x="1655.5" y="25.5" style="font-size:14px">β<tspan style="font-size:10px" dy="3">p</tspan></text>
<text class="lg mi" x="1655.5" y="52" style="font-size:14px">β</text>
<rect class="fr" x="116.5" y="0" width="1566.5" height="189"/>
<path class="tk" d="M312.3,189v-7.5M312.3,0v7.5M508.1,189v-7.5M508.1,0v7.5M703.9,189v-7.5M703.9,0v7.5M899.7,189v-7.5M899.7,0v7.5M1095.5,189v-7.5M1095.5,0v7.5M1291.3,189v-7.5M1291.3,0v7.5M1487.1,189v-7.5M1487.1,0v7.5M116.5,37.8h7.5M1683,37.8h-7.5M116.5,75.6h7.5M1683,75.6h-7.5M116.5,113.4h7.5M1683,113.4h-7.5M116.5,151.2h7.5M1683,151.2h-7.5"/>
<text class="e" x="108" y="6">5</text><text class="e" x="108" y="43.8">4</text><text class="e" x="108" y="81.6">3</text><text class="e" x="108" y="119.4">2</text><text class="e" x="108" y="157.2">1</text><text class="e" x="108" y="195">0</text>
<text class="m" x="116.5" y="212">09/14 12:37</text><text class="m" x="312.3" y="212">09/14 12:38</text><text class="m" x="508.1" y="212">09/14 12:39</text><text class="m" x="703.9" y="212">09/14 12:40</text><text class="m" x="899.7" y="212">09/14 12:41</text><text class="m" x="1095.5" y="212">09/14 12:42</text><text class="m" x="1291.3" y="212">09/14 12:43</text><text class="m" x="1487.1" y="212">09/14 12:44</text><text class="m" x="1682.9" y="212">09/14 12:45</text>
<text class="m" transform="translate(79,94.5) rotate(-90)" style="fill:#555;font-size:15px"><tspan class="mi" style="fill:#555">β</tspan><tspan class="mi" style="font-size:10px;fill:#555" dy="3">p</tspan><tspan dy="-3" style="fill:#555"> and </tspan><tspan class="mi" style="fill:#555">β</tspan></text>
</g>

<!-- ================= TS6 Proton Number Density ================= -->
<polyline class="ln" stroke="#0000ff" points="116.5,2877.4 312.3,2876.7 508.1,2878.2 703.9,2879.6 899.7,2879.6 1095.5,2877.4 1291.3,2875.9 1487.1,2878.2 1682.9,2874.5"/>
<g transform="translate(0,2722.5)">
<text class="ti" x="900" y="-10.5">Proton Number Density</text>
<rect class="fr" x="116.5" y="0" width="1566.5" height="189"/>
<path class="tk" d="M312.3,189v-7.5M312.3,0v7.5M508.1,189v-7.5M508.1,0v7.5M703.9,189v-7.5M703.9,0v7.5M899.7,189v-7.5M899.7,0v7.5M1095.5,189v-7.5M1095.5,0v7.5M1291.3,189v-7.5M1291.3,0v7.5M1487.1,189v-7.5M1487.1,0v7.5M116.5,31.5h7.5M1683,31.5h-7.5M116.5,63h7.5M1683,63h-7.5M116.5,94.5h7.5M1683,94.5h-7.5M116.5,126h7.5M1683,126h-7.5M116.5,157.5h7.5M1683,157.5h-7.5"/>
<text class="e" x="108" y="6">30</text><text class="e" x="108" y="37.5">25</text><text class="e" x="108" y="69">20</text><text class="e" x="108" y="100.5">15</text><text class="e" x="108" y="132">10</text><text class="e" x="108" y="163.5">5</text><text class="e" x="108" y="195">0</text>
<text class="m" x="116.5" y="212">09/14 12:37</text><text class="m" x="312.3" y="212">09/14 12:38</text><text class="m" x="508.1" y="212">09/14 12:39</text><text class="m" x="703.9" y="212">09/14 12:40</text><text class="m" x="899.7" y="212">09/14 12:41</text><text class="m" x="1095.5" y="212">09/14 12:42</text><text class="m" x="1291.3" y="212">09/14 12:43</text><text class="m" x="1487.1" y="212">09/14 12:44</text><text class="m" x="1682.9" y="212">09/14 12:45</text>
<text class="m" transform="translate(74,94.5) rotate(-90)">Np(#/cc)</text>
</g>

<!-- ================= TS7 Proton Temperature ================= -->
<polyline class="ln" stroke="#0000ff" points="116.5,3168.3 312.3,3164.8 508.1,3168.3 703.9,3168.9 899.7,3170.4 1095.5,3171.2 1291.3,3171.9 1487.1,3168.3 1682.9,3168.9"/>
<polyline class="ln" stroke="#ff0000" points="116.5,3102.4 312.3,3111.8 508.1,3098.6 703.9,3095.6 899.7,3089.2 1095.5,3089.2 1291.3,3085.4 1487.1,3099.4 1682.9,3099.4"/>
<g transform="translate(0,3006)">
<text class="ti" x="900" y="-10.5">Proton Temperature and <tspan class="mi" style="font-size:22.2px">T<tspan style="font-size:15px" dy="4">e</tspan><tspan dy="-4">/T</tspan><tspan style="font-size:15px" dy="4">p</tspan></tspan></text>
<rect x="124" y="6.8" width="71.2" height="26.6" fill="#fff" stroke="#000" stroke-width="1.6"/>
<path d="M133.2,19.3h22.9" stroke="#0000ff" stroke-width="1.8"/>
<text class="lg" x="171" y="24.5">Tp</text>
<rect x="1586" y="6.8" width="89.5" height="31" fill="#fff" stroke="#000" stroke-width="1.6"/>
<path d="M1595,21.6h22.6" stroke="#ff0000" stroke-width="1.8"/>
<text class="lg mi" x="1634" y="26" style="font-size:14px">T<tspan style="font-size:10px" dy="3">e</tspan><tspan dy="-3">/T</tspan><tspan style="font-size:10px" dy="3">p</tspan></text>
<rect class="fr" x="116.5" y="0" width="1566.5" height="189"/>
<path class="tk" d="M312.3,189v-7.5M312.3,0v7.5M508.1,189v-7.5M508.1,0v7.5M703.9,189v-7.5M703.9,0v7.5M899.7,189v-7.5M899.7,0v7.5M1095.5,189v-7.5M1095.5,0v7.5M1291.3,189v-7.5M1291.3,0v7.5M1487.1,189v-7.5M1487.1,0v7.5M116.5,37.8h7.5M1683,37.8h-7.5M116.5,75.6h7.5M1683,75.6h-7.5M116.5,113.4h7.5M1683,113.4h-7.5M116.5,151.2h7.5M1683,151.2h-7.5"/>
<text class="e" x="108" y="6">0.5</text><text class="e" x="108" y="43.8">0.4</text><text class="e" x="108" y="81.6">0.3</text><text class="e" x="108" y="119.4">0.2</text><text class="e" x="108" y="157.2">0.1</text><text class="e" x="108" y="195">0.0</text>
<g style="fill:#ff0000"><text x="1693" y="6" style="fill:#ff0000">5</text><text x="1693" y="43.8" style="fill:#ff0000">4</text><text x="1693" y="81.6" style="fill:#ff0000">3</text><text x="1693" y="119.4" style="fill:#ff0000">2</text><text x="1693" y="157.2" style="fill:#ff0000">1</text><text x="1693" y="195" style="fill:#ff0000">0</text></g>
<text class="m" x="116.5" y="212">09/14 12:37</text><text class="m" x="312.3" y="212">09/14 12:38</text><text class="m" x="508.1" y="212">09/14 12:39</text><text class="m" x="703.9" y="212">09/14 12:40</text><text class="m" x="899.7" y="212">09/14 12:41</text><text class="m" x="1095.5" y="212">09/14 12:42</text><text class="m" x="1291.3" y="212">09/14 12:43</text><text class="m" x="1487.1" y="212">09/14 12:44</text><text class="m" x="1682.9" y="212">09/14 12:45</text>
<text class="m" transform="translate(65,94.5) rotate(-90)">Tp(<tspan class="mi">10</tspan><tspan class="mi" style="font-size:11px" dy="-7">6</tspan><tspan dy="7">K)</tspan></text>
<text class="m mi" transform="translate(1728,94.5) rotate(-90)" style="fill:#ff0000;font-size:16.67px">T<tspan style="font-size:11px;fill:#ff0000" dy="4">e</tspan><tspan dy="-4" style="fill:#ff0000">/T</tspan><tspan style="font-size:11px;fill:#ff0000" dy="4">p</tspan></text>
</g>
</svg>
</body></html>
